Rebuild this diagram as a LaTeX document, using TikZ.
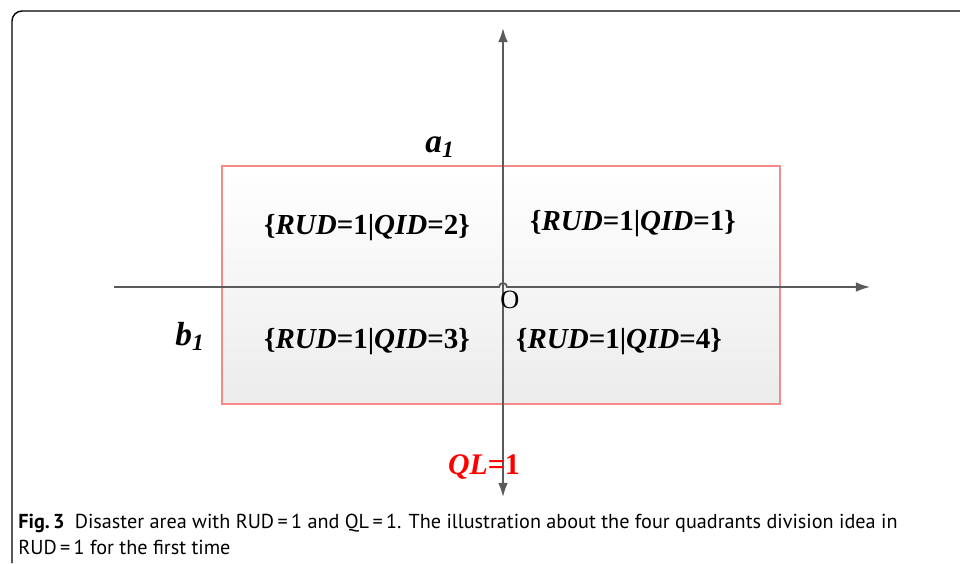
\documentclass[tikz,border=0pt]{standalone}
\usepackage{fontspec}
\setmainfont{Liberation Serif}
\setsansfont{PT Sans}
\usetikzlibrary{arrows.meta}
\definecolor{axisgray}{HTML}{5A5A5A}
\definecolor{boxred}{HTML}{F48A8A}
\definecolor{boxfill}{HTML}{ECECEC}
\definecolor{qlred}{HTML}{FF0000}

\begin{document}
\begin{tikzpicture}[x=0.2mm,y=-0.2mm]
\tikzstyle{every node}+=[inner sep=0pt]
\tikzstyle{axis}=[axisgray, line width=1pt]
\tikzstyle{quad}=[font=\fontsize{16.5}{18}\selectfont\bfseries]
\tikzstyle{side}=[font=\fontsize{19}{21}\selectfont\bfseries\itshape]
\tikzstyle{capline}=[font=\sffamily\fontsize{11.5}{14}\selectfont, anchor=base west]
\useasboundingbox (0,0) rectangle (960,563);
% frame
\draw [black, line width=0.8pt, rounded corners=2mm] (12,563) -- (12,11) -- (960,11);
% the area
\shade [top color=white, bottom color=boxfill] (222,166) rectangle (780,404);
\draw [boxred, line width=0.9pt] (222,166) rectangle (780,404);
% axes
\coordinate (west) at (114,287);
\coordinate (east) at (870,287);
\coordinate (north) at (503,28);
\coordinate (south) at (503,497);
\draw [axis, -{Latex[length=8pt,width=5.5pt]}] (west) -- (499,287) arc [start angle=180, end angle=360, radius=4] -- (east);
\draw [axis, {Latex[length=8pt,width=5.5pt]}-{Latex[length=8pt,width=5.5pt]}] (south) -- (north);
% labels
\node [quad] (q2) at (367,228) {\{\textit{RUD}=1|\textit{QID}=2\}};
\node [quad] (q1) at (633,224) {\{\textit{RUD}=1|\textit{QID}=1\}};
\node [quad] (q3) at (367,342) {\{\textit{RUD}=1|\textit{QID}=3\}};
\node [quad] (q4) at (619,342) {\{\textit{RUD}=1|\textit{QID}=4\}};
\node [side] (a1) at (440,147) {a\textsubscript{1}};
\node [side] (b1) at (190,336) {b\textsubscript{1}};
\node [font=\fontsize{15}{17}\selectfont] (O) at (510,300) {O};
\node [quad, qlred, font=\fontsize{17}{19}\selectfont\bfseries] (ql) at (484,467) {\textit{QL}=1};
% caption
\node [capline] (cap1) at (18,528) {\textbf{Fig.\,3}\enspace Disaster area with RUD\,=\,1 and QL\,=\,1. The illustration about the four quadrants division idea in};
\node [capline] (cap2) at (18,554) {RUD\,=\,1 for the first time};
\end{tikzpicture}
\end{document}
